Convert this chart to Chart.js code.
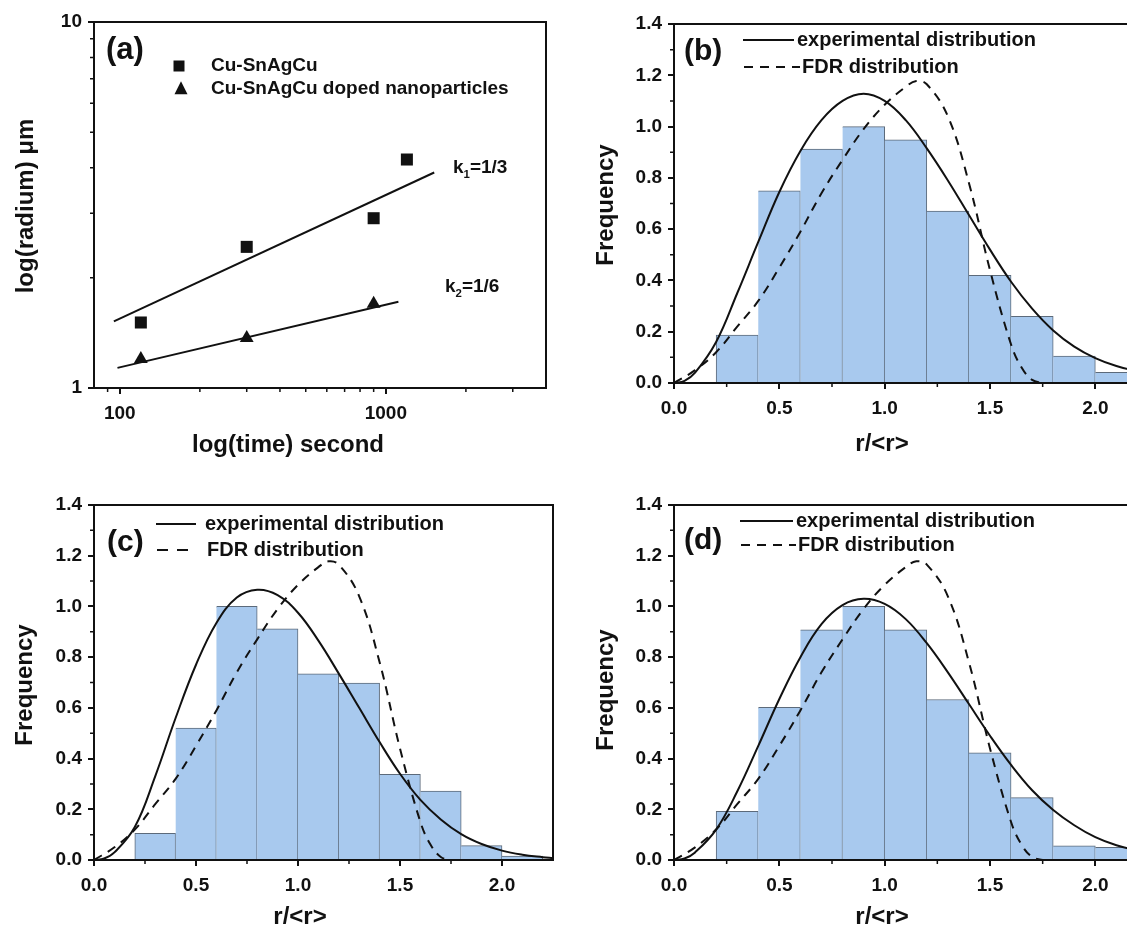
<!DOCTYPE html>
<html>
<head>
<meta charset="utf-8">
<script src="https://cdn.jsdelivr.net/npm/chart.js@4.4.0/dist/chart.umd.min.js"></script>
<style>
  html, body { margin: 0; padding: 0; background: #fff; overflow: hidden; width: 1127px; height: 928px; }
  canvas { position: absolute; }
</style>
</head>
<body>
<canvas id="ca" width="560" height="460" style="left:0px;top:0px"></canvas>
<canvas id="cb" width="600" height="460" style="left:560px;top:0px"></canvas>
<canvas id="cc" width="560" height="468" style="left:0px;top:460px"></canvas>
<canvas id="cd" width="600" height="468" style="left:560px;top:460px"></canvas>
<script>
// ---- panel (a) data ----
const timeSec = [120, 300, 900, 1200]
const radiusPlain = [1.51, 2.43, 2.91, 4.21]
const timeDoped = [120, 300, 900]
const radiusDoped = [1.2, 1.37, 1.70]
const fitTime1 = [95, 1520]
const fitRadius1 = [1.52, 3.88]
const fitTime2 = [98, 1115]
const fitRadius2 = [1.135, 1.72]
const timeTicks = [100, 1000]
const timeMinor = [90, 200, 300, 400, 500, 600, 700, 800, 900, 2000, 3000]
const radiusTicks = [1, 10]
const radiusMinor = [2, 3, 4, 5, 6, 7, 8, 9]

// ---- histogram data (b, c, d) ----
const binStart = [0.2, 0.4, 0.6, 0.8, 1.0, 1.2, 1.4, 1.6, 1.8, 2.0]
const binWidth = 0.2
const freqB = [0.187, 0.749, 0.912, 1.0, 0.948, 0.67, 0.42, 0.26, 0.105, 0.042]
const freqC = [0.105, 0.52, 1.0, 0.912, 0.734, 0.698, 0.338, 0.272, 0.057, 0.015]
const freqD = [0.192, 0.602, 0.908, 1.0, 0.908, 0.633, 0.423, 0.246, 0.056, 0.05]

const curveX = [0, 0.05, 0.1, 0.2, 0.3, 0.4, 0.5, 0.6, 0.7, 0.8, 0.9, 1.0, 1.1, 1.2, 1.3, 1.4, 1.5, 1.6, 1.7, 1.8, 1.9, 2.0, 2.1, 2.2, 2.25]
const expB = [0, 0.008, 0.04, 0.16, 0.35, 0.55, 0.745, 0.905, 1.025, 1.1, 1.128, 1.1, 1.025, 0.915, 0.79, 0.655, 0.52, 0.395, 0.29, 0.205, 0.142, 0.097, 0.066, 0.046, 0.038]
const expC = [0, 0.006, 0.03, 0.13, 0.33, 0.56, 0.77, 0.935, 1.035, 1.066, 1.045, 0.975, 0.865, 0.735, 0.6, 0.465, 0.34, 0.237, 0.16, 0.102, 0.063, 0.037, 0.021, 0.011, 0.007]
const expD = [0, 0.006, 0.03, 0.12, 0.27, 0.45, 0.635, 0.8, 0.93, 1.005, 1.03, 1.01, 0.95, 0.855, 0.74, 0.615, 0.49, 0.375, 0.275, 0.197, 0.137, 0.09, 0.058, 0.037, 0.029]

const fdrX = [0, 0.1, 0.2, 0.3, 0.4, 0.5, 0.6, 0.7, 0.8, 0.9, 1.0, 1.1, 1.15, 1.2, 1.3, 1.4, 1.5, 1.6, 1.65, 1.7, 1.75]
const fdrY = [0, 0.05, 0.12, 0.22, 0.32, 0.45, 0.59, 0.74, 0.87, 0.99, 1.085, 1.155, 1.178, 1.165, 1.04, 0.78, 0.44, 0.15, 0.06, 0.012, 0]

const xTicksHist = 0.5
const yTicksHist = 0.2
const xMinorHist = [0.25, 0.75, 1.25, 1.75]
const yMinorHist = [0.1, 0.3, 0.5, 0.7, 0.9, 1.1, 1.3]

const black = '#111'
const family = '"Liberation Sans", Arial, sans-serif'
const barFill = '#a8c9ee'
const barEdge = '#5c6a7a'

const deco = {
  id: 'deco',
  afterDraw(chart, args, o) {
    const ctx = chart.ctx
    const a = chart.chartArea
    const xs = chart.scales.x
    const ys = chart.scales.y
    ctx.save()
    ctx.strokeStyle = black
    ctx.fillStyle = black
    ctx.lineWidth = 2
    ctx.strokeRect(a.left, a.top, a.right - a.left, a.bottom - a.top)

    ctx.lineWidth = 1.5
    ctx.beginPath()
    ;(o.minorX || []).forEach(v => {
      const p = xs.getPixelForValue(v)
      ctx.moveTo(p, a.bottom); ctx.lineTo(p, a.bottom + 4)
    })
    ;(o.minorY || []).forEach(v => {
      const p = ys.getPixelForValue(v)
      ctx.moveTo(a.left, p); ctx.lineTo(a.left - 4, p)
    })
    ctx.stroke()

    ctx.lineWidth = 2
    ;(o.lines || []).forEach(l => {
      ctx.setLineDash(l.dash || [])
      ctx.beginPath(); ctx.moveTo(l.x1, l.y); ctx.lineTo(l.x2, l.y); ctx.stroke()
    })
    ctx.setLineDash([])

    ;(o.marks || []).forEach(m => {
      ctx.beginPath()
      if (m.kind === 'rect') {
        ctx.rect(m.x - m.s / 2, m.y - m.s / 2, m.s, m.s)
      } else {
        ctx.moveTo(m.x, m.y - m.s * 0.6); ctx.lineTo(m.x + m.s / 2, m.y + m.s * 0.4); ctx.lineTo(m.x - m.s / 2, m.y + m.s * 0.4)
        ctx.closePath()
      }
      ctx.fill()
    })

    ctx.textBaseline = 'middle'
    ;(o.texts || []).forEach(t => {
      ctx.save()
      ctx.translate(t.x, t.y)
      if (t.rot) ctx.rotate(-Math.PI / 2)
      ctx.textAlign = t.align || 'left'
      if (t.parts) {
        let x = 0
        t.parts.forEach(p => {
          const size = p.sub ? t.size * 0.6 : t.size
          ctx.font = 'bold ' + size + 'px ' + family
          ctx.fillText(p.t, x, p.sub ? t.size * 0.38 : 0)
          x += ctx.measureText(p.t).width
        })
      } else {
        ctx.font = 'bold ' + t.size + 'px ' + family
        ctx.fillText(t.text, 0, 0)
      }
      ctx.restore()
    })
    ctx.restore()
  }
}

const tickFont = { family: family, size: 19, weight: 'bold' }
const gridOpts = { display: true, drawOnChartArea: false, drawTicks: true, tickLength: 6, color: black, lineWidth: 2, offset: false }
const borderOpts = { display: true, color: black, width: 2 }

function histChart(id, freq, exp, xh, top, right, decoOpts) {
  return new Chart(document.getElementById(id), {
    type: 'bar',
    data: {
      datasets: [
        {
          type: 'line',
          data: curveX.map((x, i) => ({ x: x, y: exp[i] })),
          borderColor: black, borderWidth: 2, pointRadius: 0,
          tension: 0.4, order: 1
        },
        {
          type: 'line',
          data: fdrX.map((x, i) => ({ x: x, y: fdrY[i] })),
          borderColor: black, borderWidth: 2, borderDash: [9, 7], pointRadius: 0,
          tension: 0.4, order: 2
        },
        {
          type: 'bar',
          data: binStart.map((b, i) => ({ x: b + binWidth / 2, y: freq[i] })),
          backgroundColor: barFill,
          borderColor: barEdge,
          borderWidth: c => ({ top: 1, right: 1, bottom: 0, left: c.dataIndex === 0 ? 1 : 0 }),
          barPercentage: 1, categoryPercentage: 1, order: 3
        }
      ]
    },
    options: {
      responsive: false, animation: false, devicePixelRatio: 1,
      layout: { padding: { top: top, right: right, left: 0, bottom: 0 } },
      plugins: { legend: { display: false }, tooltip: { enabled: false }, deco: decoOpts },
      scales: {
        x: {
          type: 'linear', min: 0, max: 2.25, offset: false,
          afterFit: s => { s.height = xh },
          grid: gridOpts, border: borderOpts,
          ticks: { stepSize: xTicksHist, includeBounds: false, autoSkip: false, maxRotation: 0, padding: 8, color: black, font: tickFont, callback: v => v.toFixed(1) }
        },
        y: {
          min: 0, max: 1.4,
          afterFit: s => { s.width = decoOpts.yw },
          grid: gridOpts, border: borderOpts,
          ticks: { stepSize: yTicksHist, autoSkip: false, padding: 6, color: black, font: tickFont, callback: v => v.toFixed(1) }
        }
      }
    },
    plugins: [deco]
  })
}

// ---- (a) ----
new Chart(document.getElementById('ca'), {
  type: 'scatter',
  data: {
    datasets: [
      { data: timeSec.map((t, i) => ({ x: t, y: radiusPlain[i] })), pointStyle: 'rect', pointRadius: 8.5, backgroundColor: black, borderColor: black, borderWidth: 0 },
      { data: timeDoped.map((t, i) => ({ x: t, y: radiusDoped[i] })), pointStyle: 'triangle', pointRadius: 8, backgroundColor: black, borderColor: black, borderWidth: 0 },
      { data: fitTime1.map((t, i) => ({ x: t, y: fitRadius1[i] })), showLine: true, borderColor: black, borderWidth: 2, pointRadius: 0 },
      { data: fitTime2.map((t, i) => ({ x: t, y: fitRadius2[i] })), showLine: true, borderColor: black, borderWidth: 2, pointRadius: 0 }
    ]
  },
  options: {
    responsive: false, animation: false, devicePixelRatio: 1,
    layout: { padding: { top: 22, right: 14, left: 0, bottom: 0 } },
    plugins: {
      legend: { display: false }, tooltip: { enabled: false },
      deco: {
        minorX: timeMinor, minorY: radiusMinor,
        marks: [{ kind: 'rect', x: 179, y: 66, s: 11 }, { kind: 'tri', x: 181, y: 89, s: 13 }],
        texts: [
          { text: '(a)', x: 106, y: 50, size: 31 },
          { text: 'Cu-SnAgCu', x: 211, y: 66, size: 19 },
          { text: 'Cu-SnAgCu doped nanoparticles', x: 211, y: 89, size: 19 },
          { parts: [{ t: 'k' }, { t: '1', sub: true }, { t: '=1/3' }], x: 453, y: 168, size: 19 },
          { parts: [{ t: 'k' }, { t: '2', sub: true }, { t: '=1/6' }], x: 445, y: 287, size: 19 },
          { text: 'log(radium) \u03bcm', x: 26, y: 206, size: 24, align: 'center', rot: true },
          { text: 'log(time) second', x: 288, y: 445, size: 24, align: 'center' }
        ]
      }
    },
    scales: {
      x: {
        type: 'logarithmic', min: 80, max: 4000,
        afterBuildTicks: s => { s.ticks = timeTicks.map(v => ({ value: v })) },
        afterFit: s => { s.height = 72 },
        grid: gridOpts, border: borderOpts,
        ticks: { autoSkip: false, maxRotation: 0, padding: 8, color: black, font: tickFont, callback: v => String(v) }
      },
      y: {
        type: 'logarithmic', min: 1, max: 10,
        afterBuildTicks: s => { s.ticks = radiusTicks.map(v => ({ value: v })) },
        afterFit: s => { s.width = 94 },
        grid: gridOpts, border: borderOpts,
        ticks: { autoSkip: false, padding: 6, color: black, font: tickFont, callback: v => String(v) }
      }
    }
  },
  plugins: [deco]
})

// ---- (b) ----
histChart('cb', freqB, expB, 77, 24, 12, {
  yw: 114, minorX: xMinorHist, minorY: yMinorHist,
  lines: [{ x1: 183, x2: 234, y: 40 }, { x1: 184, x2: 240, y: 67, dash: [9, 7] }],
  texts: [
    { text: '(b)', x: 124, y: 52, size: 30 },
    { text: 'experimental distribution', x: 237, y: 40, size: 20 },
    { text: 'FDR distribution', x: 242, y: 67, size: 20 },
    { text: 'Frequency', x: 46, y: 205, size: 24, align: 'center', rot: true },
    { text: 'r/<r>', x: 322, y: 444, size: 24, align: 'center' }
  ]
})

// ---- (c) ----
histChart('cc', freqC, expC, 68, 45, 7, {
  yw: 94, minorX: xMinorHist, minorY: yMinorHist,
  lines: [{ x1: 156, x2: 196, y: 64 }, { x1: 157, x2: 196, y: 90, dash: [11, 9] }],
  texts: [
    { text: '(c)', x: 107, y: 83, size: 30 },
    { text: 'experimental distribution', x: 205, y: 64, size: 20 },
    { text: 'FDR distribution', x: 207, y: 90, size: 20 },
    { text: 'Frequency', x: 25, y: 225, size: 24, align: 'center', rot: true },
    { text: 'r/<r>', x: 300, y: 457, size: 24, align: 'center' }
  ]
})

// ---- (d) ----
histChart('cd', freqD, expD, 68, 45, 12, {
  yw: 114, minorX: xMinorHist, minorY: yMinorHist,
  lines: [{ x1: 180, x2: 233, y: 61 }, { x1: 181, x2: 236, y: 85, dash: [9, 7] }],
  texts: [
    { text: '(d)', x: 124, y: 81, size: 30 },
    { text: 'experimental distribution', x: 236, y: 61, size: 20 },
    { text: 'FDR distribution', x: 238, y: 85, size: 20 },
    { text: 'Frequency', x: 46, y: 230, size: 24, align: 'center', rot: true },
    { text: 'r/<r>', x: 322, y: 457, size: 24, align: 'center' }
  ]
})
</script>
</body>
</html>
